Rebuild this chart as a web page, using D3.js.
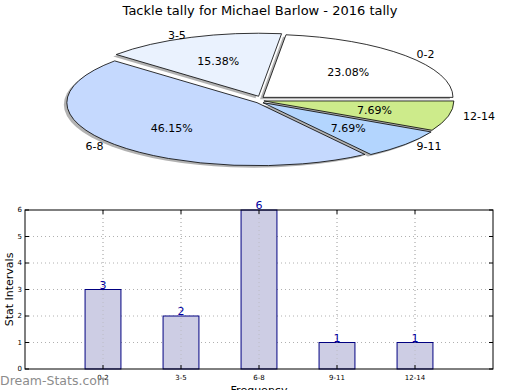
<!DOCTYPE html>
<html><head><meta charset="utf-8">
<script src="https://cdn.jsdelivr.net/npm/d3@7"></script>
<style>body{margin:0;background:#fff}svg{display:block;font-family:"DejaVu Sans",sans-serif}</style>
</head><body><svg id="c" width="520" height="390"></svg>
<script>
const title = "Tackle tally for Michael Barlow - 2016 tally";
const categories = ["0-2","3-5","6-8","9-11","12-14"];
const values = [3,2,6,1,1];
const sliceColors = ["#ffffff","#eaf2fe","#c5d9fe","#b3d5fe","#cdeb8b"];
const yTicks = [0,1,2,3,4,5,6];
const yLabel = "Stat Intervals";
const xLabel = "Frequency";
const watermark = "Dream-Stats.com";

const svg = d3.select("#c");

// Title
svg.append("text").attr("x",260).attr("y",15).attr("text-anchor","middle")
  .attr("font-size",13).attr("fill","#000").text(title);

// ----- Pie (elliptical) -----
const cx = 260, cy = 100, rx = 190, ry = 63, explode = 4;
const total = d3.sum(values);
const pie = d3.pie().sort(null).startAngle(Math.PI/2).endAngle(Math.PI/2 - 2*Math.PI);
const arcs = pie(values);
const arcGen = d3.arc().innerRadius(0).outerRadius(1);
function off(d){
  const m = (d.startAngle + d.endAngle)/2;
  return [explode*Math.sin(m), -explode*Math.cos(m)];
}
const pg = svg.append("g");
// shadows
pg.selectAll("path.sh").data(arcs).join("path").attr("class","sh")
  .attr("d", arcGen)
  .attr("transform", d => { const o = off(d); return `translate(${cx+o[0]-3},${cy+o[1]+2}) scale(${rx},${ry})`; })
  .attr("fill","#000").attr("fill-opacity",0.3).attr("stroke","none");
// slices
pg.selectAll("path.sl").data(arcs).join("path").attr("class","sl")
  .attr("d", arcGen)
  .attr("transform", d => { const o = off(d); return `translate(${cx+o[0]},${cy+o[1]}) scale(${rx},${ry})`; })
  .attr("fill",(d,i)=>sliceColors[i]).attr("stroke","#000").attr("stroke-width",0.8)
  .attr("vector-effect","non-scaling-stroke");
// percent labels
arcs.forEach((d,i)=>{
  const m = (d.startAngle + d.endAngle)/2, o = off(d);
  const px = cx + o[0] + 0.6*rx*Math.sin(m), py = cy + o[1] - 0.6*ry*Math.cos(m);
  pg.append("text").attr("x",px).attr("y",py).attr("dy","0.35em").attr("text-anchor","middle")
    .attr("font-size",11).text((d.value/total*100).toFixed(2)+"%");
  const lx = cx + 1.1*rx*Math.sin(m), ly = cy - 1.1*ry*Math.cos(m);
  pg.append("text").attr("x",lx).attr("y",ly).attr("dy","0.35em")
    .attr("text-anchor", Math.sin(m) >= 0 ? "start" : "end")
    .attr("font-size",11).text(categories[i]);
});

// ----- Bar chart -----
const L = 25, R = 493, T = 210, B = 369;
const x = d3.scaleLinear().domain([-1, categories.length]).range([L, R]);
const y = d3.scaleLinear().domain([0, 6]).range([B, T]);
const bw = 0.46;
const bg = svg.append("g");
// grid
bg.selectAll("line.gy").data(yTicks.slice(1,-1)).join("line")
  .attr("x1",L).attr("x2",R).attr("y1",d=>y(d)).attr("y2",d=>y(d))
  .attr("stroke","#b0b0b0").attr("stroke-dasharray","1,3").attr("stroke-width",1);
bg.selectAll("line.gx").data(categories).join("line")
  .attr("x1",(d,i)=>x(i)).attr("x2",(d,i)=>x(i)).attr("y1",T).attr("y2",B)
  .attr("stroke","#b0b0b0").attr("stroke-dasharray","1,3").attr("stroke-width",1);
// bars
bg.selectAll("rect.bar").data(values).join("rect")
  .attr("x",(d,i)=>x(i-bw/2)).attr("width",x(bw)-x(0))
  .attr("y",d=>y(d)).attr("height",d=>y(0)-y(d))
  .attr("fill","#cdcde4").attr("stroke","#000080").attr("stroke-width",1);
// grid visible over bars
bg.selectAll("line.gx2").data(categories).join("line")
  .attr("x1",(d,i)=>x(i)).attr("x2",(d,i)=>x(i)).attr("y1",T).attr("y2",B)
  .attr("stroke","#b0b0b0").attr("stroke-dasharray","1,3").attr("stroke-width",1).attr("stroke-opacity",0.6);
// value labels
bg.selectAll("text.val").data(values).join("text")
  .attr("x",(d,i)=>x(i)).attr("y",d=>y(d)-1).attr("text-anchor","middle")
  .attr("font-size",11).attr("fill","#0000a0").text(d=>d);
// frame
bg.append("rect").attr("x",L).attr("y",T).attr("width",R-L).attr("height",B-T)
  .attr("fill","none").attr("stroke","#000").attr("stroke-width",1);
// y ticks
yTicks.forEach(t=>{
  bg.append("line").attr("x1",L).attr("x2",L+4).attr("y1",y(t)).attr("y2",y(t)).attr("stroke","#000");
  bg.append("line").attr("x1",R-4).attr("x2",R).attr("y1",y(t)).attr("y2",y(t)).attr("stroke","#000");
  bg.append("text").attr("x",L-3).attr("y",y(t)).attr("dy","0.35em").attr("text-anchor","end")
    .attr("font-size",7).text(t);
});
// x ticks
categories.forEach((c,i)=>{
  bg.append("line").attr("x1",x(i)).attr("x2",x(i)).attr("y1",B).attr("y2",B-4).attr("stroke","#000");
  bg.append("line").attr("x1",x(i)).attr("x2",x(i)).attr("y1",T).attr("y2",T+4).attr("stroke","#000");
  bg.append("text").attr("x",x(i)).attr("y",B+11).attr("text-anchor","middle")
    .attr("font-size",7).text(c);
});
// axis labels
svg.append("text").attr("transform",`translate(13,${(T+B)/2}) rotate(-90)`).attr("text-anchor","middle")
  .attr("font-size",11).text(yLabel);
svg.append("text").attr("x",x(2)).attr("y",394).attr("text-anchor","middle")
  .attr("font-size",11).text(xLabel);
// watermark
svg.append("text").attr("x",0).attr("y",385).attr("font-size",12.5).attr("fill","#8c8c8c")
  .text(watermark);
</script></body></html>
